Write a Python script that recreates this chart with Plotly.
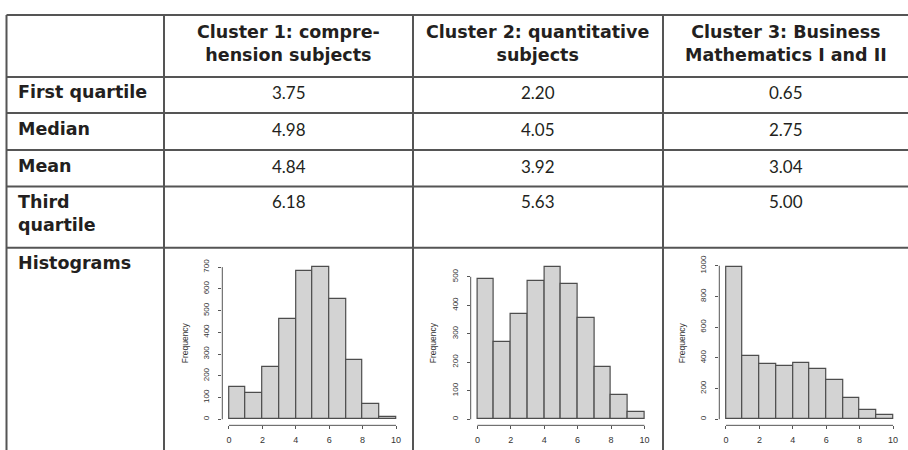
import plotly.graph_objects as go

# ---------------- data ----------------
col_headers = ["Cluster 1: compre-<br>hension subjects",
               "Cluster 2: quantitative<br>subjects",
               "Cluster 3: Business<br>Mathematics I and II"]
row_labels = ["First quartile", "Median", "Mean", "Third<br>quartile", "Histograms"]
first_quartile = ["3.75", "2.20", "0.65"]
median = ["4.98", "4.05", "2.75"]
mean = ["4.84", "3.92", "3.04"]
third_quartile = ["6.18", "5.63", "5.00"]

bin_edges = [0, 1, 2, 3, 4, 5, 6, 7, 8, 9, 10]
counts_cluster1 = [146, 120, 242, 462, 682, 700, 551, 273, 71, 8]
counts_cluster2 = [493, 270, 369, 485, 534, 474, 357, 185, 86, 25]
counts_cluster3 = [991, 409, 361, 348, 363, 325, 254, 135, 60, 30]

x_ticks = [0, 2, 4, 6, 8, 10]
y_ticks1 = [0, 100, 200, 300, 400, 500, 600, 700]
y_ticks2 = [0, 100, 200, 300, 400, 500]
y_ticks3 = [0, 200, 400, 600, 800, 1000]

# ---------------- layout helpers ----------------
W, H = 908, 450
def px(x):
    return x / W
def py(y):
    return 1 - y / H

LINE = "#555555"
TXT = "#231f20"
BOLD_FONT = "DejaVu Sans"
REG_FONT = "Lato"

col_x = [6.5, 164, 413, 663]          # vertical lines
row_y = [9, 72, 108.5, 146, 183, 245]  # horizontal lines
col_centers = [288.5, 538, 786]

fig = go.Figure()

# ---------------- histograms ----------------
hists = [(counts_cluster1, y_ticks1), (counts_cluster2, y_ticks2), (counts_cluster3, y_ticks3)]
plot_left = [222.3, 470.7, 719.3]
plot_w = 180.4
plot_top, plot_bot = 258.5, 425

centers = [(bin_edges[i] + bin_edges[i + 1]) / 2 for i in range(len(bin_edges) - 1)]
widths = [bin_edges[i + 1] - bin_edges[i] for i in range(len(bin_edges) - 1)]
xspan = bin_edges[-1] - bin_edges[0]

for i, (counts, yt) in enumerate(hists):
    n = "" if i == 0 else str(i + 1)
    fig.add_trace(go.Bar(
        x=centers, y=counts, width=widths,
        marker=dict(color="#d3d3d3", line=dict(color="#4d4d4d", width=1.2)),
        xaxis="x" + n, yaxis="y" + n, showlegend=False, hoverinfo="x+y"))
    ymax = max(counts)
    fig.update_layout(**{
        "xaxis" + n: dict(
            domain=[px(plot_left[i]), px(plot_left[i] + plot_w)],
            range=[bin_edges[0] - 0.04 * xspan, bin_edges[-1] + 0.04 * xspan],
            anchor="y" + n, tickvals=x_ticks, ticks="outside", ticklen=3,
            tickcolor=LINE, tickwidth=1, showgrid=False, zeroline=False,
            showline=False, tickfont=dict(family="Liberation Sans", size=9, color="#333"),
            ticklabelstandoff=3, fixedrange=True),
        "yaxis" + n: dict(
            domain=[py(plot_bot), py(plot_top)],
            range=[-0.04 * ymax, 1.04 * ymax],
            anchor="x" + n, tickvals=yt, ticks="outside", ticklen=3,
            tickcolor=LINE, tickwidth=1, showgrid=False, zeroline=False,
            showline=False, tickangle=-90,
            tickfont=dict(family="Liberation Sans", size=8, color="#333"),
            ticklabelstandoff=6,
            title=dict(text="Frequency", font=dict(family="Liberation Sans", size=8.5, color="#333"),
                       standoff=12),
            fixedrange=True),
    })
    # R-style axis lines spanning first to last tick
    xa = "x" + n
    ya = "y" + n
    fig.add_shape(type="line", xref=xa, yref=ya + " domain",
                  x0=x_ticks[0], x1=x_ticks[-1], y0=0, y1=0,
                  line=dict(color=LINE, width=1))
    fig.add_shape(type="line", xref=xa + " domain", yref=ya,
                  x0=0, x1=0, y0=yt[0], y1=yt[-1],
                  line=dict(color=LINE, width=1))

# ---------------- table grid ----------------
for y in row_y:
    fig.add_shape(type="line", xref="paper", yref="paper",
                  x0=px(col_x[0]), x1=1, y0=py(y), y1=py(y),
                  line=dict(color=LINE, width=2))
for x in col_x:
    fig.add_shape(type="line", xref="paper", yref="paper",
                  x0=px(x), x1=px(x), y0=py(row_y[0]), y1=0,
                  line=dict(color=LINE, width=2))

# ---------------- table text ----------------
def ann(text, x, y, xanchor="center", yanchor="middle", bold=False, size=17.5, align="center"):
    fig.add_annotation(text=text, x=px(x), y=py(y), xref="paper", yref="paper",
                       xanchor=xanchor, yanchor=yanchor, showarrow=False, align=align,
                       font=dict(family=BOLD_FONT if bold else REG_FONT, size=size, color=TXT,
                                 weight="bold" if bold else "normal"))

for c, h in zip(col_centers, col_headers):
    ann(h, c, 38, bold=True)

label_y = [87.5, 124.5, 162, 210.5, 260]
for lbl, y in zip(row_labels, label_y):
    ann(lbl, 16, y, xanchor="left", bold=True, align="left")

value_rows = [first_quartile, median, mean]
for vals, y in zip(value_rows, label_y[:3]):
    for c, v in zip(col_centers, vals):
        ann(v, c, y + 0.5, size=17)
for c, v in zip(col_centers, third_quartile):
    ann(v, c, 198.5, size=17)

fig.update_layout(width=W, height=H, margin=dict(l=0, r=0, t=0, b=0),
                  paper_bgcolor="white", plot_bgcolor="white", bargap=0,
                  showlegend=False)

fig.write_html("out.html", config={"displayModeBar": False},
               post_script="document.body.style.margin='0';document.body.style.overflow='hidden';")
